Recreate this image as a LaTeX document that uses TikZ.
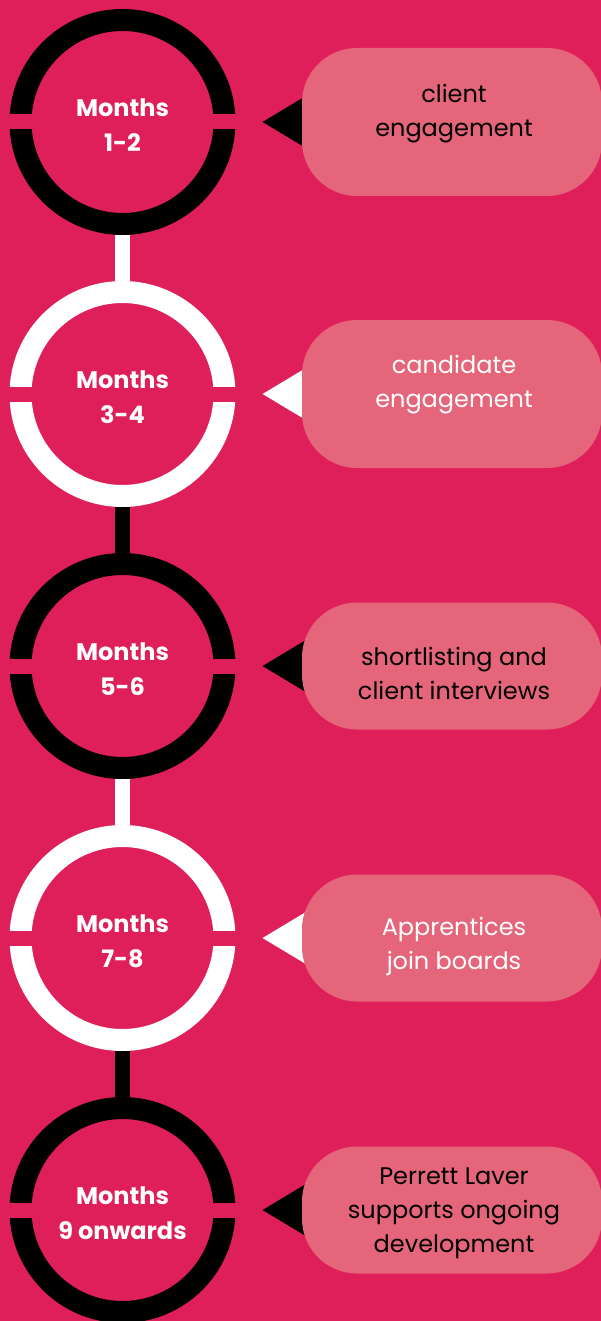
\documentclass[tikz,border=0pt]{standalone}
\usepackage{fontspec}
\setmainfont{Poppins}
\usepackage{xcolor}
\usepackage{tikz}
\usetikzlibrary{positioning}
\definecolor{bgpink}{HTML}{DF1F5A}
\definecolor{bubblepink}{HTML}{E5667A}

\begin{document}
\begin{tikzpicture}[x=1pt, y=1pt, on grid=true,
    ring/.style = {draw, circle, line width=22pt, minimum size=204pt, inner sep=0pt},
    rtext/.style = {text=white, align=center, yshift=-3pt, font=\fontsize{24}{35}\selectfont\bfseries},
    bubble/.style = {fill=bubblepink, rounded corners=55pt, minimum width=300pt, inner sep=0pt, outer sep=0pt},
    btext/.style = {align=center, font=\fontsize{24}{34}\selectfont},
    link/.style = {line width=15pt}]
      \useasboundingbox (0,0) rectangle (601,-1321);
      \fill[bgpink] (0,0) rectangle (601,-1321);

      \node[ring,draw=black,label={[rtext]center:Months\\1-2}] (m1) at (122.5,-122) {};
      \node[ring,draw=white,label={[rtext]center:Months\\3-4}] (m2) [below=272pt of m1] {};
      \node[ring,draw=black,label={[rtext]center:Months\\5-6}] (m3) [below=272pt of m2] {};
      \node[ring,draw=white,label={[rtext]center:Months\\7-8}] (m4) [below=272pt of m3] {};
      \node[ring,draw=black,label={[rtext]center:Months\\9 onwards}] (m5) [below=272pt of m4] {};

      % gaps in the rings
      \foreach \m in {m1,m2,m3,m4,m5} {
        \fill[bgpink] ([xshift=-2pt,yshift=-7.5pt]\m.west) rectangle ([xshift=26pt,yshift=7.5pt]\m.west);
        \fill[bgpink] ([xshift=-26pt,yshift=-7.5pt]\m.east) rectangle ([xshift=2pt,yshift=7.5pt]\m.east);
      }

      \draw[link,white] (m1) to (m2);
      \draw[link,black] (m2) to (m3);
      \draw[link,white] (m3) to (m4);
      \draw[link,black] (m4) to (m5);

      % pointers
      \fill[black] ([xshift=140pt]m1.center) -- ++(55,33) -- ++(0,-66) -- cycle;
      \fill[white] ([xshift=140pt]m2.center) -- ++(55,33) -- ++(0,-66) -- cycle;
      \fill[black] ([xshift=140pt]m3.center) -- ++(55,33) -- ++(0,-66) -- cycle;
      \fill[white] ([xshift=140pt]m4.center) -- ++(55,33) -- ++(0,-66) -- cycle;
      \fill[black] ([xshift=140pt]m5.center) -- ++(55,33) -- ++(0,-66) -- cycle;

      \node[bubble,minimum height=148pt] (b1) [right=329.5pt of m1,
        label={[btext,text=black,yshift=8pt,xshift=2pt]center:client\\engagement}] {};
      \node[bubble,minimum height=148pt] (b2) [right=329.5pt of m2,
        label={[btext,text=white,yshift=9pt,xshift=2pt]center:candidate\\engagement}] {};
      \node[bubble,minimum height=127pt] (b3) [right=329.5pt of m3,
        label={[btext,text=black,yshift=-7pt,xshift=2pt]center:shortlisting and\\client interviews}] {};
      \node[bubble,minimum height=127pt] (b4) [right=329.5pt of m4,
        label={[btext,text=white,yshift=-8pt,xshift=2pt]center:Apprentices\\join boards}] {};
      \node[bubble,minimum height=127pt] (b5) [right=329.5pt of m5,
        label={[btext,text=black,yshift=-3pt,xshift=2pt]center:Perrett Laver\\supports ongoing\\development}] {};
    \end{tikzpicture}
\end{document}
